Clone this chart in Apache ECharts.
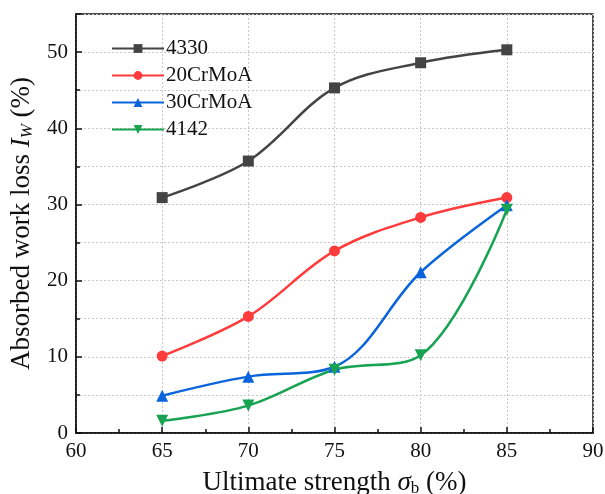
<!DOCTYPE html>
<html>
<head>
<meta charset="utf-8">
<script src="https://cdn.jsdelivr.net/npm/echarts@6/dist/echarts.min.js"></script>
<style>
  html, body { margin: 0; padding: 0; background: #fff; }
  #chart { width: 605px; height: 494px; }
</style>
</head>
<body>
<div id="chart"></div>
<script>
const strength = [65, 70, 75, 80, 85]
const loss4330 = [30.9, 35.7, 45.3, 48.6, 50.3]
const loss20CrMoA = [10.1, 15.3, 23.9, 28.3, 30.9]
const loss30CrMoA = [4.9, 7.4, 8.7, 21.1, 29.9]
const loss4142 = [1.6, 3.6, 8.3, 10.2, 29.3]

const font = 'Liberation Serif'
const pairs = (ys) => strength.map((x, i) => [x, ys[i]])

const chart = echarts.init(document.getElementById('chart'))

const mkSeries = (name, ys, color, symbol, size, rotate) => ({
  name,
  type: 'line',
  data: pairs(ys),
  smooth: 0.35,
  symbol,
  symbolSize: size,
  symbolRotate: rotate || 0,
  lineStyle: { color, width: 2.5 },
  itemStyle: { color },
})

chart.setOption({
  animation: false,
  grid: {
    left: 76, right: 12, top: 14, bottom: 61,
    outerBoundsMode: 'none',
    show: true, borderColor: '#111', borderWidth: 1.5,
  },
  legend: {
    left: 106, top: 33, orient: 'vertical',
    itemWidth: 52, itemHeight: 11, itemGap: 6,
    textStyle: { fontFamily: font, fontSize: 21, color: '#111', padding: [0, 0, 0, -3] },
  },
  xAxis: {
    type: 'value', min: 60, max: 90, interval: 5,
    name: 'Ultimate strength {i|σ}{s|b} (%)',
    nameLocation: 'middle', nameGap: 35,
    nameTextStyle: {
      fontFamily: font, fontSize: 27, color: '#111',
      rich: {
        i: { fontFamily: font, fontSize: 27, fontStyle: 'italic', color: '#111' },
        s: { fontFamily: font, fontSize: 17, color: '#111', verticalAlign: 'bottom', padding: [12, 0, 0, 0] },
      },
    },
    axisLine: { lineStyle: { color: '#111', width: 1.5 } },
    axisTick: { inside: true, length: 6, lineStyle: { color: '#111', width: 1.5 } },
    minorTick: { show: true, splitNumber: 2, length: 4, lineStyle: { color: '#111', width: 1.5 } },
    axisLabel: { fontFamily: font, fontSize: 21, color: '#111', margin: 8 },
    splitLine: { show: true, lineStyle: { color: '#c8c8c8', type: [2, 2], width: 1 } },
  },
  yAxis: {
    type: 'value', min: 0, max: 55, interval: 10,
    name: 'Absorbed work loss {i|I}{s|W} (%)',
    nameLocation: 'middle', nameGap: 38, nameRotate: 90,
    nameTextStyle: {
      fontFamily: font, fontSize: 27, color: '#111',
      rich: {
        i: { fontFamily: font, fontSize: 27, fontStyle: 'italic', color: '#111' },
        s: { fontFamily: font, fontSize: 17, fontStyle: 'italic', color: '#111', verticalAlign: 'bottom', padding: [12, 0, 0, 0] },
      },
    },
    axisLine: { show: true, lineStyle: { color: '#111', width: 1.5 } },
    axisTick: { show: true, inside: true, length: 6, lineStyle: { color: '#111', width: 1.5 } },
    minorTick: { show: true, splitNumber: 2, length: 4, lineStyle: { color: '#111', width: 1.5 } },
    axisLabel: { fontFamily: font, fontSize: 21, color: '#111', margin: 8, showMaxLabel: false },
    splitLine: { show: true, lineStyle: { color: '#c8c8c8', type: [2, 2], width: 1 } },
    minorSplitLine: { show: true, lineStyle: { color: '#c8c8c8', type: [2, 2], width: 1 } },
  },
  series: [
    mkSeries('4330', loss4330, '#444444', 'rect', 11),
    mkSeries('20CrMoA', loss20CrMoA, '#ff3b3b', 'circle', 11),
    mkSeries('30CrMoA', loss30CrMoA, '#0a64dc', 'triangle', 12),
    mkSeries('4142', loss4142, '#17a352', 'triangle', 12, 180),
  ],
})

window.addEventListener('resize', () => {
  chart.resize()
})
</script>
</body>
</html>
